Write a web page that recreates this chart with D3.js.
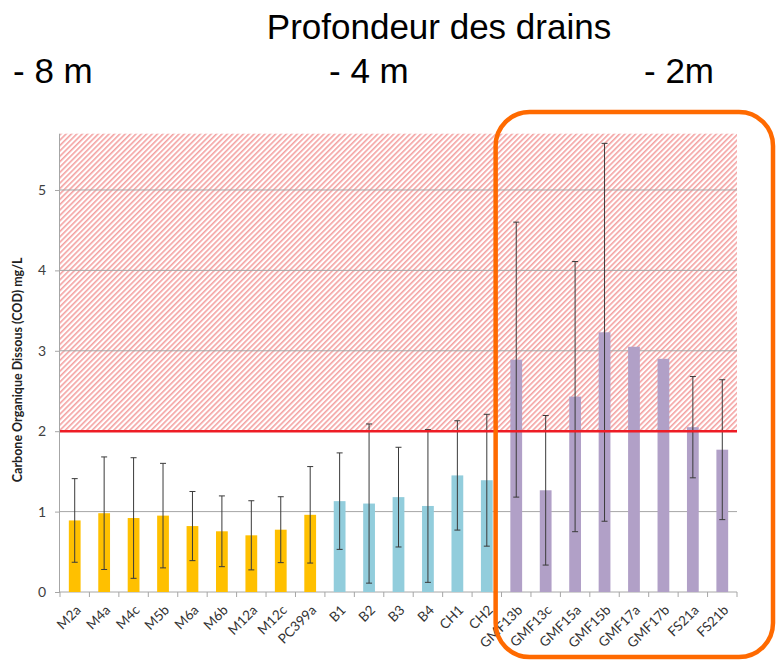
<!DOCTYPE html>
<html>
<head>
<meta charset="utf-8">
<script src="https://cdn.jsdelivr.net/npm/d3@7"></script>
<style>
  html, body { margin: 0; padding: 0; background: #fff; }
  svg { display: block; }
</style>
</head>
<body>
<svg id="chart" width="776" height="661"></svg>
<script>
// Drain samples, grouped by drain depth
const categories = ["M2a","M4a","M4c","M5b","M6a","M6b","M12a","M12c","PC399a",
                    "B1","B2","B3","B4","CH1","CH2",
                    "GMF13b","GMF13c","GMF15a","GMF15b","GMF17a","GMF17b","FS21a","FS21b"];
const groups = ["-8","-8","-8","-8","-8","-8","-8","-8","-8",
                "-4","-4","-4","-4","-4","-4",
                "-2","-2","-2","-2","-2","-2","-2","-2"];
// Mean dissolved organic carbon (mg/L)
const meanCOD = [0.89,0.98,0.92,0.95,0.82,0.755,0.705,0.775,0.96,
                 1.13,1.10,1.18,1.07,1.45,1.39,
                 2.89,1.265,2.43,3.23,3.05,2.90,2.05,1.77];
// Standard deviation (null = single measurement)
const sdCOD = [0.52,0.70,0.75,0.65,0.43,0.44,0.43,0.41,0.60,
               0.60,0.99,0.62,0.95,0.68,0.82,
               1.71,0.93,1.68,2.35,null,null,0.63,0.87];
const yTicks = [0,1,2,3,4,5];
const threshold = 2;
const yMax = 5.7;
const depthLabels = ["- 8 m","- 4 m","- 2m"];

const colors = {"-8": "#FFC000", "-4": "#92CDDC", "-2": "#B1A0C7"};

const svg = d3.select("#chart");
const plot = {left: 60, right: 737, top: 133.7, bottom: 592};

const x = d3.scaleBand().domain(categories).range([plot.left, plot.right])
  .paddingInner(0.6).paddingOuter(0.3);
const y = d3.scaleLinear().domain([0, yMax]).range([plot.bottom, plot.top]);

// Diagonal hatch for the zone above the threshold
const defs = svg.append("defs");
const hp = 3.8;
const pat = defs.append("pattern").attr("id", "hatch")
  .attr("patternUnits", "userSpaceOnUse").attr("width", hp).attr("height", hp)
  .attr("patternTransform", "rotate(45)");
pat.append("rect").attr("width", hp).attr("height", hp).attr("fill", "#fff");
pat.append("rect").attr("x", 0).attr("y", 0).attr("width", 1.6).attr("height", hp)
  .attr("fill", "#F4A2A2");

svg.append("rect")
  .attr("x", plot.left).attr("y", y(yMax))
  .attr("width", plot.right - plot.left).attr("height", y(threshold) - y(yMax))
  .attr("fill", "url(#hatch)");

// Horizontal gridlines
svg.append("g").selectAll("line").data(yTicks.filter(d => d > 0)).join("line")
  .attr("x1", plot.left).attr("x2", plot.right)
  .attr("y1", d => y(d)).attr("y2", d => y(d))
  .attr("stroke", "#A6A6A6").attr("stroke-width", 1);

// Y axis
const yAxis = svg.append("g").attr("transform", `translate(${plot.left},0)`)
  .call(d3.axisLeft(y).tickValues(yTicks).tickSize(5).tickFormat(d3.format("d")));
yAxis.select(".domain").attr("stroke", "#A6A6A6").attr("d", `M-0.5,${y(yMax)}V${plot.bottom}`);
yAxis.selectAll(".tick line").attr("stroke", "#A6A6A6");
yAxis.selectAll(".tick text").attr("fill", "#404040")
  .style("font-family", "Lato, 'Open Sans', sans-serif").style("font-size", "14px").attr("x", -14);

// X axis baseline and separator ticks between categories
const step = x.step();
const xBase = svg.append("g");
xBase.append("line").attr("x1", plot.left).attr("x2", plot.right)
  .attr("y1", y(0)).attr("y2", y(0)).attr("stroke", "#A6A6A6");
xBase.selectAll("line.sep").data(d3.range(categories.length + 1)).join("line")
  .attr("class", "sep")
  .attr("x1", i => plot.left + i * step).attr("x2", i => plot.left + i * step)
  .attr("y1", y(0)).attr("y2", y(0) + 5).attr("stroke", "#A6A6A6");

// Bars
svg.append("g").selectAll("rect").data(categories).join("rect")
  .attr("x", d => x(d)).attr("width", x.bandwidth())
  .attr("y", (d, i) => y(meanCOD[i]))
  .attr("height", (d, i) => y(0) - y(meanCOD[i]))
  .attr("fill", (d, i) => colors[groups[i]]);

// Error bars
const eb = svg.append("g").attr("stroke", "#3A3A3A").attr("stroke-width", 1);
categories.forEach((c, i) => {
  if (sdCOD[i] == null) return;
  const cx = x(c) + x.bandwidth() / 2;
  const lo = y(meanCOD[i] - sdCOD[i]), hi = y(meanCOD[i] + sdCOD[i]);
  eb.append("line").attr("x1", cx).attr("x2", cx).attr("y1", lo).attr("y2", hi);
  eb.append("line").attr("x1", cx - 3).attr("x2", cx + 3).attr("y1", lo).attr("y2", lo);
  eb.append("line").attr("x1", cx - 3).attr("x2", cx + 3).attr("y1", hi).attr("y2", hi);
});

// Threshold line
svg.append("line").attr("x1", plot.left).attr("x2", plot.right)
  .attr("y1", y(threshold)).attr("y2", y(threshold))
  .attr("stroke", "#EE1C25").attr("stroke-width", 2.5);

// Category labels, rotated
svg.append("g").selectAll("text").data(categories).join("text")
  .attr("transform", d => `translate(${x(d) + x.bandwidth() / 2 + 7},${y(0) + 19}) rotate(-45)`)
  .attr("text-anchor", "end")
  .attr("fill", "#333")
  .style("font-family", "Lato, 'Open Sans', sans-serif").style("font-size", "13.5px")
  .text(d => d);

// Y axis title
svg.append("text")
  .attr("transform", `translate(22,${(y(0) + y(yMax)) / 2 + 7}) rotate(-90)`)
  .attr("text-anchor", "middle").attr("fill", "#222")
  .style("font-family", "Lato, 'Open Sans', sans-serif").style("font-size", "12.5px")
  .style("font-weight", "bold")
  .text("Carbone Organique Dissous (COD) mg/L");

// Header: drain depth
const head = "'Liberation Sans', Arial, sans-serif";
svg.append("text").attr("x", 439).attr("y", 39).attr("text-anchor", "middle")
  .style("font-family", head).style("font-size", "35px").attr("fill", "#000")
  .text("Profondeur des drains");
const depthX = [13, 329, 644];
svg.append("g").selectAll("text").data(depthLabels).join("text")
  .attr("x", (d, i) => depthX[i]).attr("y", 83)
  .style("font-family", head).style("font-size", "35px").attr("fill", "#000")
  .text(d => d);

// Highlight frame around the shallow drains
const firstShallow = categories[groups.indexOf("-2")];
const frameLeft = x(firstShallow) - step * 0.5;
svg.append("rect")
  .attr("x", frameLeft).attr("y", 112)
  .attr("width", 773 - frameLeft).attr("height", 545)
  .attr("rx", 34).attr("ry", 34)
  .attr("fill", "none").attr("stroke", "#FF6A00").attr("stroke-width", 4.5);
</script>
</body>
</html>
